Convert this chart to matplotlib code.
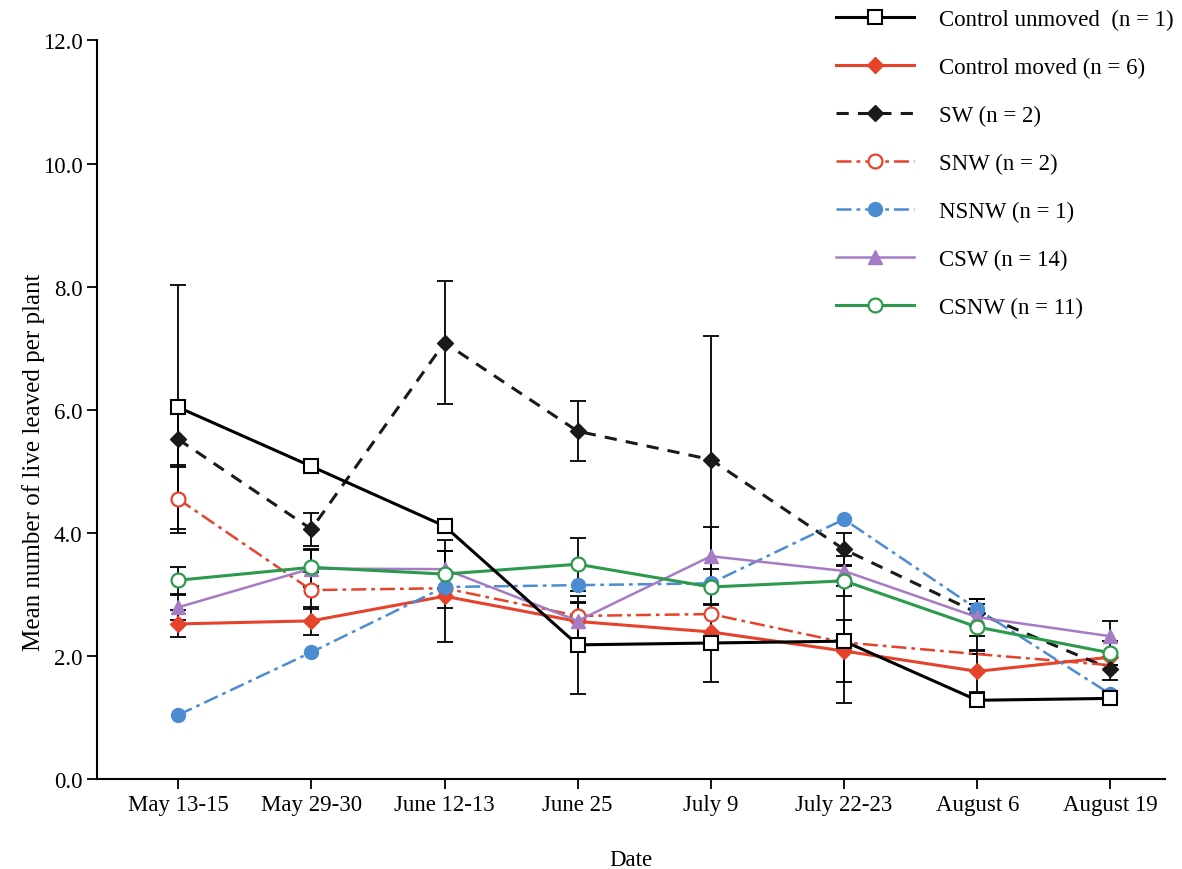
import numpy as np
import matplotlib.pyplot as plt

plt.rcParams['font.family'] = ['Liberation Serif', 'DejaVu Serif']

# Data
dates = ["May 13-15", "May 29-30", "June 12-13", "June 25", "July 9",
         "July 22-23", "August 6", "August 19"]

ctrl_unmoved = [6.04, 5.08, 4.11, 2.18, 2.21, 2.24, 1.28, 1.31]
ctrl_unmoved_err = [1.98, 0, 0, 0.80, 0.64, 1.00, 0, 0]

ctrl_moved = [2.52, 2.57, 2.97, 2.56, 2.39, 2.08, 1.75, 1.98]
ctrl_moved_err = [0.22, 0.23, 0.74, 0.30, 0, 0.50, 0.33, 0]

sw = [5.52, 4.06, 7.09, 5.65, 5.19, 3.73, 2.70, 1.79]
sw_err = [0.45, 0.27, 1.0, 0.49, 2.0, 0.27, 0.22, 0.18]

snw = [4.55, 3.07, 3.10, 2.65, 2.68, 2.22, 2.03, 1.85]
snw_err = [0.55, 0.30, 0, 0, 0, 0, 0, 0]

nsnw = [1.04, 2.06, 3.12, 3.15, 3.18, 4.22, 2.76, 1.38]

csw = [2.79, 3.42, 3.41, 2.57, 3.62, 3.38, 2.63, 2.32]
csw_err = [0.20, 0.30, 0.30, 0.30, 0.48, 0.25, 0.30, 0.25]

csnw = [3.23, 3.44, 3.33, 3.49, 3.12, 3.22, 2.47, 2.05]
csnw_err = [0.22, 0.30, 0.55, 0.43, 0.30, 0.25, 0.38, 0.20]

red = '#e5432c'
blue = '#4b8cd2'
purple = '#a67bc6'
green = '#2b9a4c'

x = np.arange(len(dates))

fig = plt.figure(figsize=(11.82, 8.70), dpi=100)
ax = fig.add_axes([0.082, 0.1034, 0.9036, 0.849])

eb = dict(ecolor='black', elinewidth=1.3, capsize=6, capthick=1.3)

# error bars first (black), then the lines on top
for vals, err in [(ctrl_unmoved, ctrl_unmoved_err), (ctrl_moved, ctrl_moved_err),
                  (sw, sw_err), (snw, snw_err), (csw, csw_err), (csnw, csnw_err)]:
    ax.errorbar(x, vals, yerr=err, fmt='none', zorder=1, **eb)

h1, = ax.plot(x, ctrl_unmoved, color='black', lw=2.2, marker='s', ms=10,
              mfc='white', mec='black', mew=1.5, zorder=5,
              label='Control unmoved  (n = 1)')
h2, = ax.plot(x, ctrl_moved, color=red, lw=2.2, marker='D', ms=8,
              mfc=red, mec=red, zorder=4, label='Control moved (n = 6)')
h3, = ax.plot(x, sw, color='#1a1a1a', lw=2.2, ls=(0, (4, 3)), marker='D', ms=8,
              mfc='#1a1a1a', mec='#1a1a1a', zorder=4, label='SW (n = 2)')
h4, = ax.plot(x, snw, color=red, lw=1.8, ls=(0, (6, 2, 1.5, 2)), marker='o', ms=10,
              mfc='white', mec=red, mew=1.6, markevery=[0, 1, 2, 3, 4], zorder=4,
              label='SNW (n = 2)')
h5, = ax.plot(x, nsnw, color=blue, lw=1.8, ls=(0, (6, 2, 1.5, 2)), marker='o', ms=10,
              mfc=blue, mec=blue, zorder=4, label='NSNW (n = 1)')
h6, = ax.plot(x, csw, color=purple, lw=1.8, marker='^', ms=10,
              mfc=purple, mec=purple, zorder=4, label='CSW (n = 14)')
h7, = ax.plot(x, csnw, color=green, lw=2.2, marker='o', ms=10,
              mfc='white', mec=green, mew=1.6, zorder=4, label='CSNW (n = 11)')

ax.set_xlim(-0.61, 7.41)
ax.set_ylim(0, 12)
ax.set_xticks(x)
ax.set_xticklabels(dates, fontsize=16.5)
ax.set_yticks(np.arange(0, 12.1, 2.0))
ax.set_yticklabels([f'{v:.1f}' for v in np.arange(0, 12.1, 2.0)], fontsize=16.5)
ax.tick_params(direction='out', length=7, width=1.3)
for s in ['top', 'right']:
    ax.spines[s].set_visible(False)
for s in ['left', 'bottom']:
    ax.spines[s].set_linewidth(1.5)

ax.set_ylabel('Mean number of live leaved per plant', fontsize=18)
ax.yaxis.set_label_coords(-0.049, 0.43)
ax.set_xlabel('Date', fontsize=16.5)
ax.xaxis.set_label_coords(0.5, -0.095)

leg = fig.legend(handles=[h1, h2, h3, h4, h5, h6, h7], loc='upper left',
                 bbox_to_anchor=(0.690, 1.012), frameon=False, fontsize=16.5,
                 handlelength=3.4, handletextpad=1.1, labelspacing=1.17)

fig.savefig('out.png', dpi=100)
